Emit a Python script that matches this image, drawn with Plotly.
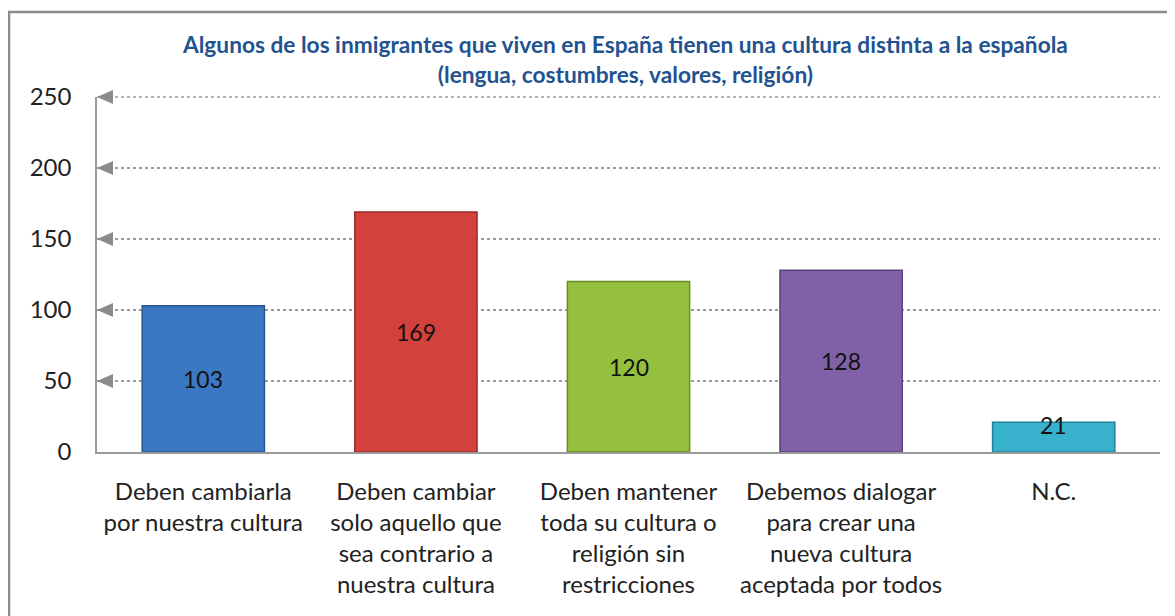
import plotly.graph_objects as go

categories = [
    "Deben cambiarla<br>por nuestra cultura",
    "Deben cambiar<br>solo aquello que<br>sea contrario a<br>nuestra cultura",
    "Deben mantener<br>toda su cultura o<br>religión sin<br>restricciones",
    "Debemos dialogar<br>para crear una<br>nueva cultura<br>aceptada por todos",
    "N.C.",
]
values = [103, 169, 120, 128, 21]
colors = ["#3b78c4", "#d3413c", "#95c03d", "#8061a8", "#38b1cd"]
edge_colors = ["#24558f", "#9a2a26", "#6a8c25", "#5a437a", "#23819a"]
y_ticks = [0, 50, 100, 150, 200, 250]
title_lines = [
    "Algunos de los inmigrantes que viven en España tienen una cultura distinta a la española",
    "(lengua, costumbres, valores, religión)",
]

FONT = "Lato"
OFF = 8  # page body margin
W, H = 1175 - OFF, 616 - OFF
ml, mr, mt, mb = 97 - OFF, 15, 97 - OFF, 164
pw, ph = W - ml - mr, H - mt - mb
YMAX = 250

fig = go.Figure()
fig.add_trace(go.Bar(
    x=categories, y=values, width=0.575,
    marker=dict(color=colors, line=dict(color=edge_colors, width=1.5)),
    hoverinfo="skip",
))

# data labels (centered in bars, kept above the axis for small bars)
for c, v in zip(categories, values):
    fig.add_annotation(x=c, y=max(v / 2, 19), text=str(v), showarrow=False,
                       font=dict(family=FONT, size=23, color="#111111"))

# top gridline (plotly omits the one on the range edge)
fig.add_shape(type="line", xref="paper", yref="paper", x0=0, x1=1, y0=1, y1=1,
              line=dict(color="#9a9a9a", width=1.5, dash="dot"), layer="below")

# arrowheads at the left end of each gridline
tw = 16 / pw
th = 7 / ph
for t in y_ticks[1:]:
    yp = t / YMAX
    fig.add_shape(type="path", xref="paper", yref="paper",
                  path=f"M 0,{yp} L {tw},{yp + th} L {tw},{yp - th} Z",
                  fillcolor="#8c8c8c", line=dict(width=0))

# outer frame
fig.add_shape(type="rect", xref="paper", yref="paper",
              x0=(8 - OFF - ml) / pw + 0.001, x1=(W + 20 - ml) / pw,
              y0=-(H + 20 - mt - ph) / ph, y1=(mt + ph - (12 - OFF)) / ph,
              line=dict(color="#8c8c8c", width=2.5), fillcolor="rgba(0,0,0,0)", layer="below")

fig.add_annotation(xref="paper", yref="paper", x=(625 - OFF - ml) / pw, y=(mt + ph - (60 - OFF)) / ph,
                   text="<br>".join(title_lines), showarrow=False, yanchor="middle",
                   font=dict(family=FONT, size=22.7, color="#23538f", weight="bold"))

fig.update_layout(
    width=W, height=H,
    margin=dict(l=ml, r=mr, t=mt, b=mb, pad=0),
    paper_bgcolor="white", plot_bgcolor="white",
    showlegend=False, bargap=0.425,
    font=dict(family=FONT, size=24, color="#222222"),
)
fig.update_xaxes(showline=True, linecolor="#9a9a9a", linewidth=1.5, ticks="",
                 ticklabelstandoff=17,
                 tickfont=dict(family=FONT, size=24, color="#222222"), showgrid=False)
fig.update_yaxes(range=[0, YMAX], tickvals=y_ticks, showline=True, linecolor="#9a9a9a",
                 linewidth=1.5, showgrid=True, gridcolor="#9a9a9a", griddash="dot",
                 gridwidth=1.5, zeroline=False, ticks="", ticklabelstandoff=19,
                 tickfont=dict(family=FONT, size=24, color="#222222"))

fig.write_html("out.html")
